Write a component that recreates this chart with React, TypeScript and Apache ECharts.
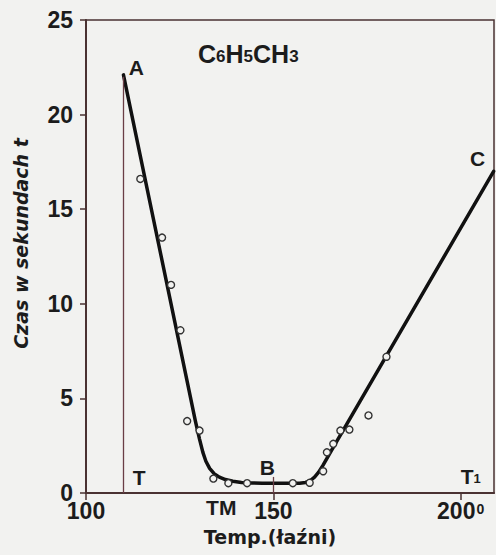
import React, { useEffect, useRef } from 'react';
import * as echarts from 'echarts';

// Hand-drawn curve (A -> B -> C)
const curveX = [110, 127, 129.2, 130.3, 131.2, 132.0, 133.0, 134.2, 135.6, 137.2, 139.2, 141.5, 144, 147, 157, 158.6, 159.9, 161.0, 162.1, 163.2, 164.5, 165.8, 208.8];
const curveY = [22.1, 5.9, 3.8, 2.85, 2.15, 1.68, 1.3, 1.02, 0.84, 0.71, 0.62, 0.56, 0.53, 0.52, 0.52, 0.56, 0.66, 0.84, 1.1, 1.45, 1.9, 2.35, 17];

// Measured points (open circles)
const pointX = [114.5, 120.3, 122.7, 125.2, 127.0, 130.3, 134.0, 138.0, 143.0, 155.2, 159.7, 163.3, 164.3, 166.0, 167.9, 170.3, 175.4, 180.2];
const pointY = [16.6, 13.5, 11.0, 8.6, 3.8, 3.3, 0.76, 0.52, 0.52, 0.52, 0.54, 1.15, 2.15, 2.6, 3.3, 3.35, 4.1, 7.2];

// Vertical line T
const tLineX = 110;
const tLineTop = 22;

// Annotation labels
const noteText = ['A', 'B', 'C', 'T', '{t|T}{s|1}', 'TM'];
const noteX = [113.4, 148.4, 204.5, 114.2, 202.7, 136.1];
const noteY = [22.5, 1.37, 17.7, 0.8, 0.74, -0.74];

// Axes
const xTicks = [100, 150, 200];
const yMin = 0;
const yMax = 25;
const yInterval = 5;
const xMin = 100;
const xMax = 208.9;

const titleText = '{c|C}{s|6}{c|H}{s|5}{c|CH}{s|3}';
const xName = 'Temp.(łaźni)';
const yName = 'Czas w sekundach t';

const FONT = 'Liberation Sans';
const WIDE = 'DejaVu Sans';
const INK = '#1c1c1c';
const AXIS = '#4a3232';

export default function App() {
  const ref = useRef<HTMLDivElement>(null);
  useEffect(() => {
    if (!ref.current) return;
    const chart = echarts.init(ref.current, undefined, { renderer: 'svg' });
    chart.setOption({
      animation: false,
      backgroundColor: '#f2f2f0',
      textStyle: { fontFamily: FONT },
      title: {
        text: titleText,
        left: 193,
        top: 36,
        textStyle: {
          rich: {
            c: { fontSize: 25, fontFamily: FONT, fontWeight: 'bold', color: INK, padding: [0, 0, 6, 0] },
            s: { fontSize: 17, fontFamily: FONT, fontWeight: 'bold', color: INK },
          },
        },
      },
      grid: {
        left: 86,
        top: 20,
        right: 2,
        bottom: 62,
        show: true,
        borderColor: AXIS,
        borderWidth: 1.5,
        backgroundColor: 'transparent',
      },
      xAxis: {
        type: 'value',
        min: xMin,
        max: xMax,
        splitLine: { show: false },
        axisLine: { show: true, lineStyle: { color: AXIS, width: 2 } },
        axisTick: { show: true, customValues: xTicks, length: 7, lineStyle: { color: AXIS, width: 1.5 } },
        axisLabel: {
          customValues: xTicks,
          margin: 9,
          formatter: (v: number) => (v === 200 ? '{n|' + v + '}{p|0}' : '{n|' + v + '}'),
          rich: {
            n: { fontSize: 23, lineHeight: 18, fontWeight: 'bold', fontFamily: FONT, color: INK },
            p: { fontSize: 14, lineHeight: 12, fontWeight: 'bold', fontFamily: FONT, color: INK, verticalAlign: 'top', padding: [0, 0, 6, 1] },
          },
        },
        name: xName,
        nameLocation: 'middle',
        nameGap: 30,
        nameTextStyle: { fontSize: 19, fontWeight: 'bold', fontFamily: WIDE, color: INK, padding: [0, 40, 0, 0] },
      },
      yAxis: {
        type: 'value',
        min: yMin,
        max: yMax,
        interval: yInterval,
        splitLine: { show: false },
        axisLine: { show: true, lineStyle: { color: AXIS, width: 2 } },
        axisTick: { show: true, length: 6, lineStyle: { color: AXIS, width: 1.5 } },
        axisLabel: { fontSize: 23, lineHeight: 16, fontWeight: 'bold', fontFamily: FONT, color: INK, margin: 13 },
        name: yName,
        nameLocation: 'middle',
        nameGap: 56,
        nameRotate: 90,
        nameTextStyle: { fontSize: 19, fontWeight: 'bold', fontStyle: 'italic', fontFamily: WIDE, color: INK, padding: [0, 0, 0, 26] },
      },
      series: [
        {
          type: 'line',
          data: curveX.map((x, i) => [x, curveY[i]]),
          symbol: 'none',
          smooth: false,
          lineStyle: { color: '#111', width: 3.5, join: 'round', cap: 'round' },
          z: 3,
          markLine: {
            silent: true,
            symbol: ['none', 'none'],
            label: { show: false },
            lineStyle: { color: '#6a3e46', width: 1.3, type: 'solid' },
            data: [
              [{ coord: [tLineX, 0] }, { coord: [tLineX, tLineTop] }],
              [{ coord: [150, 0] }, { coord: [150, 0.85] }],
            ],
          },
        },
        {
          type: 'scatter',
          data: pointX.map((x, i) => [x, pointY[i]]),
          symbol: 'circle',
          symbolSize: 7,
          itemStyle: { color: '#f2f2f0', borderColor: '#333', borderWidth: 1.4, opacity: 1 },
          z: 4,
        },
        {
          type: 'scatter',
          clip: false,
          silent: true,
          symbolSize: 0,
          itemStyle: { opacity: 1 },
          data: noteX.map((x, i) => [x, noteY[i], noteText[i]]),
          label: {
            show: true,
            position: 'inside',
            formatter: (p: any) => p.data[2],
            fontSize: 21,
            fontWeight: 'bold',
            fontFamily: FONT,
            color: INK,
            opacity: 1,
            rich: {
              t: { fontSize: 21, fontWeight: 'bold', fontFamily: FONT, color: INK, padding: [0, 0, 4, 0] },
              s: { fontSize: 13, fontWeight: 'bold', fontFamily: FONT, color: INK },
            },
          },
          z: 5,
        },
      ],
    });
    return () => chart.dispose();
  }, []);
  return (
    <div
      ref={ref}
      style={{ position: 'fixed', left: 0, top: 0, width: 496, height: 555 }}
    />
  );
}
